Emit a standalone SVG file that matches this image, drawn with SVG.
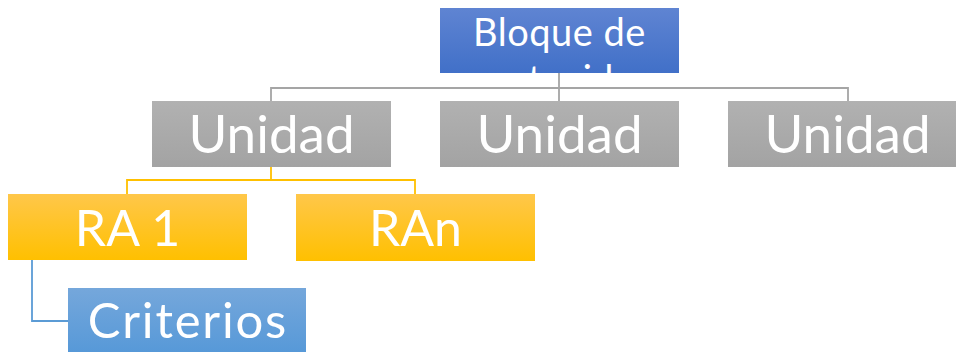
<svg xmlns="http://www.w3.org/2000/svg" width="956" height="352" viewBox="0 0 956 352">
<style>
.t{font-family:Lato,"Open Sans","Liberation Sans",sans-serif;fill:#fff;text-anchor:middle}
.cg{stroke:#a5a5a5;stroke-width:1.8;fill:none}
.cy{stroke:#ffc000;stroke-width:1.8;fill:none}
.cb{stroke:#5b9bd5;stroke-width:1.8;fill:none}
</style>
<defs>
<linearGradient id="gBlue" x1="0" y1="0" x2="0" y2="1"><stop offset="0" stop-color="#5f84d2"/><stop offset="1" stop-color="#4170c8"/></linearGradient>
<linearGradient id="gGray" x1="0" y1="0" x2="0" y2="1"><stop offset="0" stop-color="#b1b1b1"/><stop offset="1" stop-color="#a3a3a3"/></linearGradient>
<linearGradient id="gYel" x1="0" y1="0" x2="0" y2="1"><stop offset="0" stop-color="#ffc74a"/><stop offset="1" stop-color="#ffc000"/></linearGradient>
<linearGradient id="gLb" x1="0" y1="0" x2="0" y2="1"><stop offset="0" stop-color="#75a7db"/><stop offset="1" stop-color="#5799d8"/></linearGradient>
<clipPath id="clipTop"><rect x="440" y="8" width="239" height="65"/></clipPath>
</defs>
<g id="connectors">
<path class="cg" d="M559 73V88M271 101V88H848V101M559 88V101"/>
<path class="cy" d="M271 167V180M127 194V180H415V194"/>
<path class="cb" d="M32 260V321H68"/>
</g>
<g id="bloque">
<rect x="440" y="8" width="239" height="65" fill="url(#gBlue)"/>
<g clip-path="url(#clipTop)">
<text class="t" x="559.5" y="46" font-size="38" letter-spacing="0.5">Bloque de</text>
<text class="t" x="559.5" y="93" font-size="38">contenidos</text>
</g>
</g>
<g id="unidad1">
<rect x="152" y="101" width="239" height="66" fill="url(#gGray)"/>
<text class="t" x="271.5" y="153" font-size="53">Unidad</text>
</g>
<g id="unidad2">
<rect x="440" y="101" width="239" height="66" fill="url(#gGray)"/>
<text class="t" x="559.5" y="153" font-size="53">Unidad</text>
</g>
<g id="unidad3">
<rect x="728" y="101" width="239" height="66" fill="url(#gGray)"/>
<text class="t" x="847.5" y="153" font-size="53">Unidad</text>
</g>
<g id="ra1">
<rect x="8" y="194" width="239" height="66" fill="url(#gYel)"/>
<text class="t" x="127.5" y="246" font-size="50">RA 1</text>
</g>
<g id="ran">
<rect x="296" y="194" width="239" height="67" fill="url(#gYel)"/>
<text class="t" x="415.5" y="246" font-size="50">RAn</text>
</g>
<g id="criterios">
<rect x="68" y="288" width="238" height="64" fill="url(#gLb)"/>
<text class="t" x="188" y="338" font-size="49" letter-spacing="1.8">Criterios</text>
</g>
</svg>
